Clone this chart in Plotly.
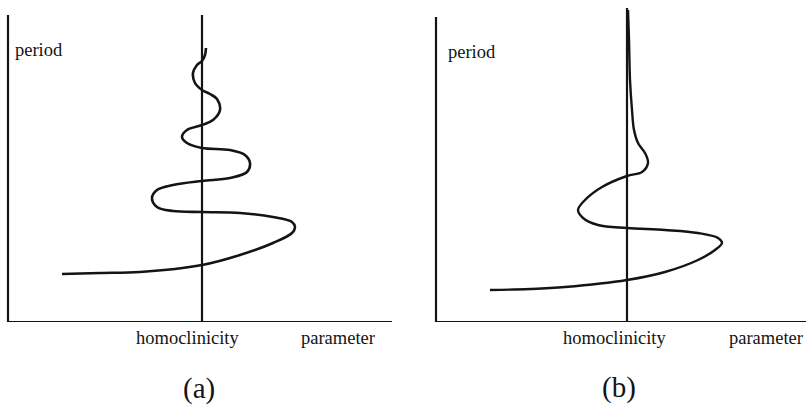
import plotly.graph_objects as go

# Sketch of period vs. parameter near a homoclinic bifurcation.
# Units: parameter measured from the homoclinicity value (0), period from the axis.

# (a) oscillating approach: curve snakes around the homoclinicity line
param_a = [-14.0, -10.2, -6.2, 0.0, 3.8, 7.1, 9.0, 9.3, 9.0, 7.1, 3.8, 0.0, -2.9,
           -4.5, -5.0, -4.5, -2.9, 0.0, 2.8, 4.5, 4.8, 4.3, 2.8, 0.0, -1.5, -2.0,
           -1.5, 0.0, 1.1, 1.8, 1.5, 0.8, 0.0, -0.7, -0.9, -0.5, 0.0, 0.3, 0.4]
period_a = [4.8, 4.9, 5.0, 5.7, 6.7, 7.9, 8.9, 9.5, 10.0, 10.5, 10.9, 11.0, 11.1,
            11.5, 12.4, 13.2, 13.7, 14.1, 14.4, 15.0, 15.9, 16.7, 17.2, 17.4, 17.9, 18.5,
            19.2, 19.7, 20.2, 21.2, 22.3, 22.8, 23.2, 23.9, 24.9, 25.7, 26.1, 26.7, 27.4]

# (b) finitely many wiggles, then a monotone approach
param_b = [-13.7, -9.7, -6.2, 0.0, 3.8, 7.1, 8.8, 9.5, 9.1, 7.1, 3.8, 0.0, -2.9,
           -4.4, -4.9, -4.2, -2.5, 0.0, 1.5, 2.1, 1.8, 1.1, 0.7, 0.5, 0.3, 0.2, 0.1]
period_b = [3.2, 3.3, 3.5, 4.2, 5.0, 6.2, 7.2, 7.9, 8.4, 8.9, 9.2, 9.4, 9.7,
            10.4, 11.2, 12.2, 13.5, 14.6, 15.0, 15.9, 16.9, 17.9, 19.2, 21.2, 24.2, 28.2, 31.2]

axis_labels = ["period", "homoclinicity", "parameter"]
panel_tags = ["(a)", "(b)"]

INK = "#141414"
SERIF = "Liberation Serif, Times New Roman, DejaVu Serif, serif"
W, H = 807, 412

fig = go.Figure()
fig.add_trace(go.Scatter(x=param_a, y=period_a, mode="lines", xaxis="x", yaxis="y",
                         line=dict(color=INK, width=2.6, shape="spline", smoothing=1.0),
                         hoverinfo="skip", showlegend=False))
fig.add_trace(go.Scatter(x=param_b, y=period_b, mode="lines", xaxis="x2", yaxis="y",
                         line=dict(color=INK, width=2.4, shape="spline", smoothing=1.0),
                         hoverinfo="skip", showlegend=False))

ydom = [1 - 322 / H, 1 - 2 / H]
hidden = dict(visible=False, showgrid=False, zeroline=False, fixedrange=True)
fig.update_layout(
    width=W, height=H, margin=dict(l=0, r=0, t=0, b=0),
    paper_bgcolor="white", plot_bgcolor="white",
    xaxis=dict(domain=[0, 400 / W], range=[-20.2, 19.8], **hidden),
    xaxis2=dict(domain=[410 / W, 1], range=[-21.7, 18.0], **hidden),
    yaxis=dict(domain=ydom, range=[0, 32], **hidden),
)

def seg(xref, x0, y0, x1, y1, w=2.2):
    return dict(type="line", xref=xref, yref="y", x0=x0, y0=y0, x1=x1, y1=y1,
                line=dict(color=INK, width=w), layer="below")

fig.update_layout(shapes=[
    # panel (a) frame and homoclinicity line
    seg("x", -19.4, 0, -19.4, 30.7),
    seg("x", -19.4, 0, 19.0, 0),
    seg("x", 0, 0, 0, 30.7),
    # panel (b)
    seg("x2", -19.1, 0, -19.1, 30.5),
    seg("x2", -19.1, 0, 17.9, 0),
    seg("x2", 0, 0, 0, 31.4),
])

def label(px, py, text, size=18.5, anchor="center"):
    return dict(x=px / W, y=1 - py / H, xref="paper", yref="paper", text=text,
                showarrow=False, xanchor=anchor, yanchor="middle",
                font=dict(family=SERIF, size=size, color=INK))

fig.update_layout(annotations=[
    label(13, 50, axis_labels[0], anchor="left"),
    label(188, 338, axis_labels[1]),
    label(338, 338, axis_labels[2]),
    label(199, 388, panel_tags[0], size=29),
    label(446, 52, axis_labels[0], anchor="left"),
    label(615, 338, axis_labels[1]),
    label(766, 338, axis_labels[2]),
    label(619, 387, panel_tags[1], size=29),
])

fig.write_html("out.html", config=dict(displayModeBar=False))
